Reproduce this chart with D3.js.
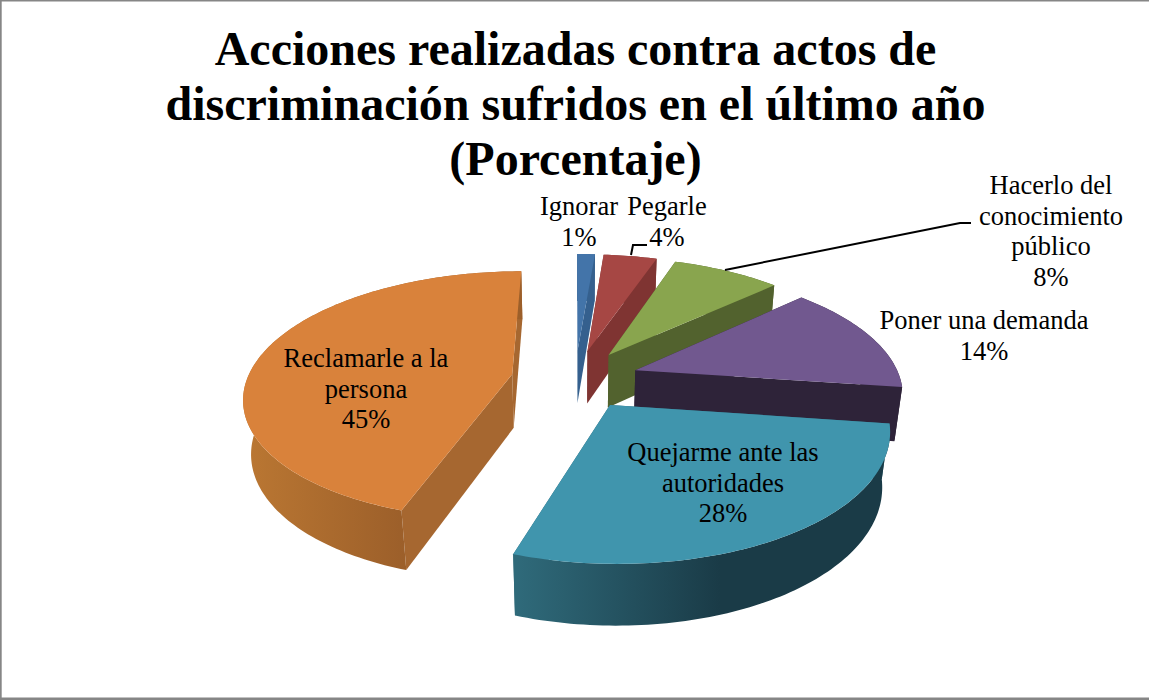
<!DOCTYPE html>
<html>
<head>
<meta charset="utf-8">
<script src="https://d3js.org/d3.v7.min.js"></script>
<style>
    html, body { margin: 0; padding: 0; background: #fff; }
    svg { display: block; font-family: "Liberation Serif", serif; }
</style>
</head>
<body>
<div id="my_dataviz"></div>
<script>
// Data, labels show them rounded
const categories = ["Ignorar", "Pegarle", "Hacerlo del conocimiento público", "Poner una demanda", "Quejarme ante las autoridades", "Reclamarle a la persona"];
const values = [1.3, 3.9, 7.9, 14.1, 27.9, 44.9];
const titleLines = ["Acciones realizadas contra actos de", "discriminación sufridos en el último año", "(Porcentaje)"];

const width = 1149, height = 700;
const pct = d => d3.format(".0f")(d) + "%";

const svg = d3.select("#my_dataviz")
    .append("svg")
    .attr("width", width)
    .attr("height", height);

// Chart frame: the picture is cropped, so the bands are not the same on every side
const frame = [
    {x: 0, y: 0, w: width, h: 1.5},
    {x: 0, y: 0, w: 1.7, h: height},
    {x: 0, y: 697.5, w: width, h: 2.5}
];
svg.selectAll(".frame")
    .data(frame)
    .enter().append("rect")
    .attr("class", "frame")
    .attr("x", d => d.x).attr("y", d => d.y)
    .attr("width", d => d.w).attr("height", d => d.h)
    .attr("fill", "#868686");

// Title
svg.append("text")
    .attr("text-anchor", "middle")
    .attr("font-weight", "bold")
    .attr("font-size", 48)
    .selectAll("tspan")
    .data(titleLines)
    .enter().append("tspan")
    .attr("x", 575.5)
    .attr("y", (d, i) => 65 + i * 55)
    .text(d => d);

// Perspective used for the 3D disc
const cx = 575, cy = 379, radius = 265, tilt = 122, depth = 55;
const persp = 0.17, persp2 = 0.024, explode = 0.2415;

function project(x, y, z) {
    const s = 1 / (1 - persp * y + persp2 * z);
    return [cx + radius * x * s, cy + s * (tilt * y + depth * z)];
}

const pie = d3.pie().sort(null).value(d => d);
const slices = pie(values);
const line = d3.line();

// Point on a slice at angle a and radius r
function slicePoint(d, a, r, z) {
    const m = (d.startAngle + d.endAngle) / 2;
    return project(explode * Math.sin(m) + r * Math.sin(a),
        -(explode * Math.cos(m) + r * Math.cos(a)), z);
}

function rimAngles(d) {
    const n = Math.ceil((d.endAngle - d.startAngle) / 0.02);
    return d3.range(n + 1).map(i => d.startAngle + (d.endAngle - d.startAngle) * i / n);
}

const colors = [
    {top: "#4374a9", cut: "#35608e", rim: ["#35608e", "#35608e"]},
    {top: "#a64744", cut: "#7f3432", rim: ["#7f3432", "#7f3432"]},
    {top: "#89a54e", cut: "#52622e", rim: ["#52622e", "#52622e"]},
    {top: "#71588f", cut: "#2e2339", rim: ["#2e2339", "#2e2339"]},
    {top: "#4095ad", cut: "#2f6877", rim: ["#2f6a7a", "#1a3b47"]},
    {top: "#d9823b", cut: "#a66730", rim: ["#b97632", "#9c5f2a"]}
];

// Gradients for the rim, they run across the visible side of the slice
const defs = svg.append("defs");
const rimRange = [[0, 1], [0, 1], [0, 1], [0, 1], [517, 720], [252, 405]];
colors.forEach((c, i) => {
    const grad = defs.append("linearGradient")
        .attr("id", "rim" + i)
        .attr("gradientUnits", "userSpaceOnUse")
        .attr("x1", rimRange[i][0]).attr("x2", rimRange[i][1])
        .attr("y1", 0).attr("y2", 0);
    grad.append("stop").attr("offset", 0).attr("stop-color", c.rim[0]);
    grad.append("stop").attr("offset", 1).attr("stop-color", c.rim[1]);
});

// Back slices first, so the front ones cover them
const pies = svg.append("g").attr("class", "pie");
slices.forEach((d, i) => {
    const g = pies.append("g").attr("class", "slice");
    const angles = rimAngles(d);
    const apexTop = slicePoint(d, 0, 0, 0), apexBottom = slicePoint(d, 0, 0, 1);

    [d.startAngle, d.endAngle].forEach(a => {
        g.append("path")
            .attr("d", line([apexTop, slicePoint(d, a, 1, 0), slicePoint(d, a, 1, 1), apexBottom]) + "Z")
            .attr("fill", colors[i].cut);
    });

    const rimTop = angles.map(a => slicePoint(d, a, 1, 0));
    const rimBottom = angles.map(a => slicePoint(d, a, 1, 1));
    g.append("path")
        .attr("d", line(rimTop.concat(rimBottom.reverse())) + "Z")
        .attr("fill", `url(#rim${i})`);

    g.append("path")
        .attr("d", line([apexTop].concat(rimTop)) + "Z")
        .attr("fill", colors[i].top);
});

// Leader lines
const leaders = [
    [[631, 255], [633, 245], [647, 245]],
    [[725, 270], [960, 223], [971, 223]]
];
svg.selectAll(".leader")
    .data(leaders)
    .enter().append("path")
    .attr("class", "leader")
    .attr("d", d => line(d))
    .attr("fill", "none")
    .attr("stroke", "#000")
    .attr("stroke-width", 2);

// Labels
const labelLayout = [
    {x: 579, y: 215, lines: ["Ignorar", pct(values[0])]},
    {x: 667, y: 215, lines: ["Pegarle", pct(values[1])]},
    {x: 1051, y: 194, lines: ["Hacerlo del", "conocimiento", "público", pct(values[2])]},
    {x: 984, y: 329, lines: ["Poner una demanda", pct(values[3])]},
    {x: 723, y: 461, lines: ["Quejarme ante las", "autoridades", pct(values[4])]},
    {x: 366, y: 367, lines: ["Reclamarle a la", "persona", pct(values[5])]}
];
const labels = svg.selectAll(".label")
    .data(labelLayout)
    .enter().append("text")
    .attr("class", "label")
    .attr("text-anchor", "middle")
    .attr("font-size", 26.5)
    .attr("fill", "#000");
labels.selectAll("tspan")
    .data(d => d.lines.map((t, i) => ({t, x: d.x, y: d.y + i * 30.5})))
    .enter().append("tspan")
    .attr("x", d => d.x)
    .attr("y", d => d.y)
    .text(d => d.t);
</script>
</body>
</html>
